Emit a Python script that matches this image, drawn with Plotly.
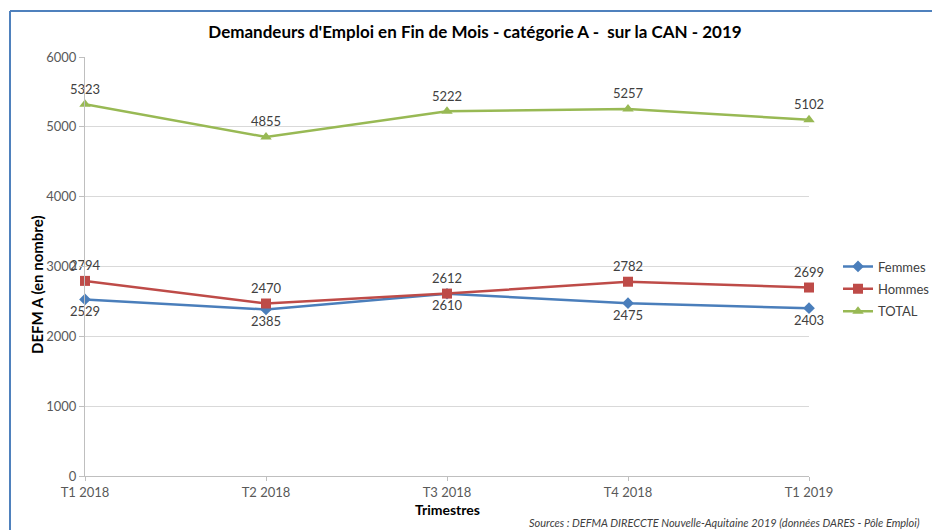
import plotly.graph_objects as go

categories = ["T1 2018", "T2 2018", "T3 2018", "T4 2018", "T1 2019"]
femmes = [2529, 2385, 2610, 2475, 2403]
hommes = [2794, 2470, 2612, 2782, 2699]
total = [5323, 4855, 5222, 5257, 5102]

FONT = "Lato, 'Open Sans', sans-serif"
W, H = 932, 530
# plot-area edges in screen pixels
L, R, T, B = 85, 809, 57, 476

fig = go.Figure()
fig.add_trace(go.Scatter(
    x=categories, y=femmes, name="Femmes", legendgroup="f", mode="lines+markers+text",
    line=dict(color="#4a7ebb", width=2.5),
    marker=dict(symbol="diamond", size=9, color="#4a7ebb"),
    text=[str(v) for v in femmes], textposition="bottom center",
    textfont=dict(size=13, color="#404040", family=FONT), cliponaxis=False))
fig.add_trace(go.Scatter(
    x=categories, y=hommes, name="Hommes", legendgroup="h", mode="lines+markers+text",
    line=dict(color="#be4b48", width=2.5),
    marker=dict(symbol="square", size=10, color="#be4b48"),
    text=[str(v) for v in hommes], textposition="top center",
    textfont=dict(size=13, color="#404040", family=FONT), cliponaxis=False))
fig.add_trace(go.Scatter(
    x=categories, y=total, name="TOTAL", legendgroup="t", mode="lines+markers+text",
    line=dict(color="#98b954", width=2.5),
    marker=dict(symbol="triangle-up", size=10, color="#98b954"),
    text=[str(v) for v in total], textposition="top center",
    textfont=dict(size=13, color="#404040", family=FONT), cliponaxis=False))

pw = R - L
ph = B - T
def px(x):
    return (x - L) / pw
def py(y):
    return (B - y) / ph

border = dict(color="#4f81bd", width=2)

fig.update_layout(
    width=W, height=H,
    margin=dict(l=L, r=W - R, t=T, b=H - B, autoexpand=False),
    paper_bgcolor="white", plot_bgcolor="white",
    font=dict(family=FONT, color="#595959", size=13),
    title=dict(text="<b>Demandeurs d'Emploi en Fin de Mois - catégorie A -  sur la CAN - 2019</b>",
               x=px(475), xanchor="center", xref="paper", y=1 - 32 / H, yanchor="middle",
               font=dict(size=17, color="#000000", family=FONT)),
    xaxis=dict(type="category", range=[0, 4], showgrid=False, automargin=False,
               showline=True, linecolor="#bfbfbf", linewidth=1,
               ticks="outside", ticklen=4, tickcolor="#bfbfbf",
               tickfont=dict(size=13, color="#595959")),
    yaxis=dict(range=[0, 6000], dtick=1000, showgrid=True, gridcolor="#d9d9d9", automargin=False,
               showline=True, linecolor="#bfbfbf", linewidth=1, zeroline=False,
               ticks="outside", ticklen=5, tickcolor="#bfbfbf",
               tickfont=dict(size=13, color="#595959")),
    legend=dict(x=px(838), y=py(251.5), xanchor="left", yanchor="top",
                font=dict(size=13, color="#404040"), tracegroupgap=2.5,
                itemwidth=30, bgcolor="rgba(0,0,0,0)"),
    shapes=[
        dict(type="line", xref="paper", yref="paper",
             x0=px(10), x1=px(10), y0=py(11), y1=py(540), line=border),
        dict(type="line", xref="paper", yref="paper",
             x0=px(10), x1=px(940), y0=py(11), y1=py(11), line=border),
    ],
    annotations=[
        dict(text="<b>Trimestres</b>", xref="paper", yref="paper", x=px(447), y=py(510),
             xanchor="center", yanchor="middle", showarrow=False,
             font=dict(size=14, color="#000000")),
        dict(text="<b>DEFM A (en nombre)</b>", xref="paper", yref="paper", x=px(37), y=py(285),
             xanchor="center", yanchor="middle", showarrow=False, textangle=-90,
             font=dict(size=15, color="#000000")),
        dict(text="<i>Sources : DEFMA DIRECCTE Nouvelle-Aquitaine 2019 (données DARES - Pôle Emploi)</i>",
             xref="paper", yref="paper", x=px(922), y=py(522),
             xanchor="right", yanchor="middle", showarrow=False,
             font=dict(size=11, color="#404040"))],
)

fig.write_html(
    "out.html",
    config={"displayModeBar": False},
    post_script="document.body.style.margin='0';document.body.style.overflow='hidden';",
)
